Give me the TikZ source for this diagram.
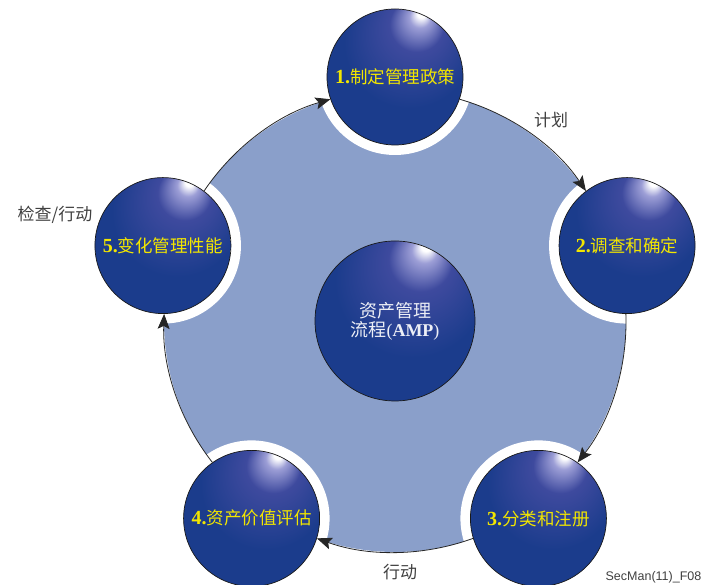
\documentclass[tikz,border=0pt]{standalone}
\usepackage{fontspec}
\setmainfont{Liberation Serif}
\newfontfamily\cjk{Noto Sans CJK SC}
\newfontfamily\figfont{Liberation Sans}
\usepackage{tikz}
\usetikzlibrary{%
	calc,%
	arrows.meta,%
	shapes
}

\definecolor{discblue}{HTML}{8A9FCA}
\definecolor{sphbase}{HTML}{1B3C8C}
\definecolor{sphmid}{HTML}{3E4A9E}
\definecolor{sphhi}{HTML}{9C9ED6}
\definecolor{steptext}{HTML}{F2E600}
\definecolor{labelgray}{HTML}{404040}

\pgfdeclareradialshading{sphereshade}{\pgfpoint{10bp}{24bp}}{%
	color(0bp)=(white); color(1.5bp)=(white); color(4bp)=(sphhi);
	color(10bp)=(sphmid); color(24bp)=(sphbase); color(50bp)=(sphbase)}

\newcommand{\stepno}[1]{{\rmfamily\bfseries\fontsize{20}{20}\selectfont #1}}

\tikzset{
	sphere/.style={circle, draw=black!90, line width=0.7pt, shading=sphereshade,
		minimum size=136pt, inner sep=0pt, text=steptext,
		font=\cjk\fontsize{17.5}{19}\selectfont},
	flow/.style={draw=black!85, line width=0.8pt, -{Stealth[length=15pt,width=12pt,inset=3pt]}},
	cyclelabel/.style={text=labelgray, font=\cjk\fontsize{17}{19}\selectfont},
	figlabel/.style={text=labelgray, font=\figfont\fontsize{12.5}{14}\selectfont, inner sep=0.5pt}
}

\begin{document}
\begin{tikzpicture}[x=1pt,y=1pt]
		\useasboundingbox (0,0) rectangle (702,585);
		
		% Centre of the cycle
		\coordinate (c) at (395,264);
		
		% Disc
		\fill[discblue] (c) circle (231);
		
		% White gaps round the stages
		\foreach \ang in {90,18,-54,-126,162}
		\fill[white] ($(c)+(\ang:244)$) circle (78);
		
		% Stages
		\foreach \i/\ang/\txt in {1/90/制定管理政策, 2/18/调查和确定, 3/-54/分类和注册, 4/-126/资产价值评估, 5/162/变化管理性能}
		\node[sphere] (s\i) at ($(c)+(\ang:244)$) {\stepno{\i.}\txt};
		
		% Centre
		\node[sphere, minimum size=160pt, text=white!92!sphbase, align=center,
			font=\cjk\fontsize{18}{19}\selectfont] (amp) at (c)
			{资产管理\\流程{\rmfamily(\textbf{AMP})}};
		
		% Arrows between the stages
		\foreach \i/\j/\a/\b in {1/2/-19/127, 2/3/-91/55, 3/4/-163/-17, 4/5/125/-89, 5/1/53/199}
		\draw[flow] (s\i.\a) to[bend left=20, looseness=0.88] (s\j.\b);
		
		% Labels
		\node[cyclelabel] (plan) at (551,465) {计划};
		\node[cyclelabel] (check) at (55,370) {检查/行动};
		\node[cyclelabel] (act) at (400,13) {行动};
		\node[figlabel, anchor=east] (figid) at (702,8) {SecMan(11)\_F08};
	\end{tikzpicture}
\end{document}
